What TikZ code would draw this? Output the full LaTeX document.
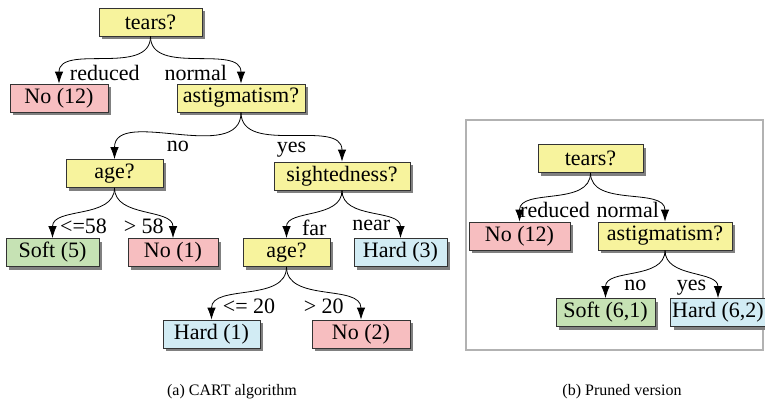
\documentclass[tikz,border=0pt]{standalone}
\usepackage{fontspec}
\setmainfont{Liberation Serif}
\usetikzlibrary{arrows.meta,shadows}
\definecolor{splitfill}{RGB}{247,243,157}
\definecolor{nofill}{RGB}{247,190,192}
\definecolor{softfill}{RGB}{198,226,180}
\definecolor{hardfill}{RGB}{210,236,244}
\tikzset{
	treebox/.style={draw=black!80, line width=0.8pt, minimum height=28pt, inner sep=1.5pt,
		font=\fontsize{22}{26}\selectfont,
		drop shadow={shadow xshift=3pt, shadow yshift=-3pt, fill=black!50, opacity=1}},
	split/.style={treebox, fill=splitfill},
	leafno/.style={treebox, fill=nofill},
	leafsoft/.style={treebox, fill=softfill},
	leafhard/.style={treebox, fill=hardfill},
	branch/.style={->, line width=0.8pt},
	blabel/.style={midway, below, yshift=-3pt, inner sep=2pt, font=\fontsize{22}{26}\selectfont},
	caption/.style={font=\fontsize{16}{19}\selectfont}
}
\begin{document}
\begin{tikzpicture}[x=1pt, y=-1pt, >={Latex[length=12pt,width=8.5pt]}]
	\useasboundingbox (0,0) rectangle (765,404);
	
	% (a) full tree
	\node[split, minimum width=103pt] (tearsA) at (150.5,22) {tears?};
	\node[leafno, minimum width=98pt] (noA12) at (59,98) {No (12)};
	\node[split, minimum width=128pt] (astA) at (241,98) {astigmatism?};
	\node[split, minimum width=97pt] (ageA) at (114.5,173.5) {age?};
	\node[split, minimum width=136pt] (sightA) at (342,176) {sightedness?};
	\node[leafsoft, minimum width=93pt] (softA) at (52.5,252.5) {Soft (5)};
	\node[leafno, minimum width=90pt] (noA1) at (173,252.5) {No (1)};
	\node[split, minimum width=87pt] (ageB) at (286.5,252.5) {age?};
	\node[leafhard, minimum width=93pt] (hardA3) at (400.5,252.5) {Hard (3)};
	\node[leafhard, minimum width=97pt] (hardA1) at (211.5,334) {Hard (1)};
	\node[leafno, minimum width=98pt] (noA2) at (361,334) {No (2)};
	
	\draw[branch] (tearsA.south) to[out=-90, in=90] node[blabel] {reduced} (noA12.north);
	\draw[branch] (tearsA.south) to[out=-90, in=90] node[blabel] {normal} (astA.north);
	\draw[branch] (astA.south) to[out=-90, in=90] node[blabel] {no} (ageA.north);
	\draw[branch] (astA.south) to[out=-90, in=90] node[blabel] {yes} (sightA.north);
	\draw[branch] (ageA.south) to[out=-90, in=90] node[blabel] {<=58} (softA.north);
	\draw[branch] (ageA.south) to[out=-90, in=90] node[blabel] {> 58} (noA1.north);
	\draw[branch] (sightA.south) to[out=-90, in=90] node[blabel] {far} (ageB.north);
	\draw[branch] (sightA.south) to[out=-90, in=90] node[blabel] {near} (hardA3.north);
	\draw[branch] (ageB.south) to[out=-90, in=90] node[blabel] {<= 20} (hardA1.north);
	\draw[branch] (ageB.south) to[out=-90, in=90] node[blabel] {> 20} (noA2.north);
	
	\node[caption] (capA) at (232,392) {(a) CART algorithm};
	
	% (b) pruned tree
	\draw[black!30, line width=1.5pt] (466,120) rectangle (763,350);
	\node[split, minimum width=105pt] (tearsB) at (590.5,158.5) {tears?};
	\node[leafno, minimum width=101pt] (noB12) at (519.5,236) {No (12)};
	\node[split, minimum width=134pt] (astB) at (665,236) {astigmatism?};
	\node[leafsoft, minimum width=99pt] (softB) at (605.5,312.5) {Soft (6,1)};
	\node[leafhard, minimum width=91pt] (hardB) at (718,312.5) {Hard (6,2)};
	
	\draw[branch] (tearsB.south) to[out=-90, in=90] node[blabel] {reduced} (noB12.north);
	\draw[branch] (tearsB.south) to[out=-90, in=90] node[blabel] {normal} (astB.north);
	\draw[branch] (astB.south) to[out=-90, in=90] node[blabel] {no} (softB.north);
	\draw[branch] (astB.south) to[out=-90, in=90] node[blabel] {yes} (hardB.north);
	
	\node[caption] (capB) at (622,392) {(b) Pruned version};
\end{tikzpicture}
\end{document}
